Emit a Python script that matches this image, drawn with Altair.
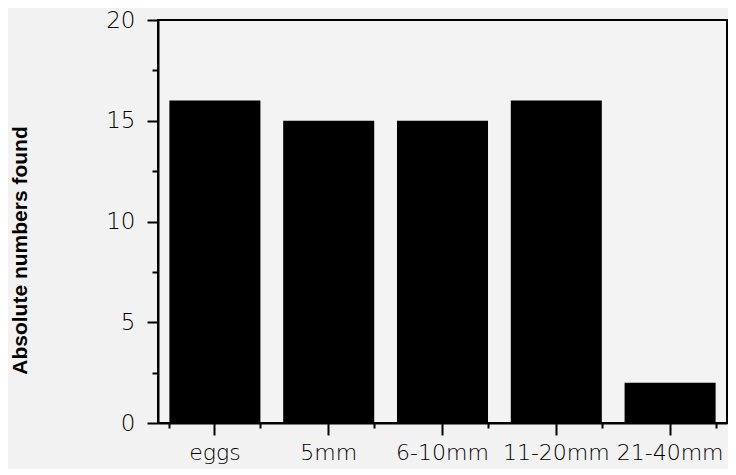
import altair as alt
import pandas as pd

categories = ["eggs", "5mm", "6-10mm", "11-20mm", "21-40mm"]
counts = [16, 15, 15, 16, 2]
y_major = [0, 5, 10, 15, 20]
y_minor = [2.5, 7.5, 12.5, 17.5]

df = pd.DataFrame({"stage": categories, "count": counts})

xscale = alt.Scale(domain=categories, paddingInner=0.2, paddingOuter=0.1)
yscale = alt.Scale(domain=[0, 20], nice=False, zero=True)

bars = alt.Chart(df).mark_bar(color="#000000").encode(
    x=alt.X("stage:N", sort=categories, scale=xscale,
            axis=alt.Axis(title=None, labelAngle=0, tickSize=12, labelPadding=7,
                          labelOverlap=False, labelBound=False, labelFont="DejaVu Sans",
                          labelFontSize=22, labelFontWeight=300, orient="bottom")),
    y=alt.Y("count:Q", scale=yscale,
            axis=alt.Axis(values=y_major, tickSize=11, labelPadding=12, grid=False,
                          title="Absolute numbers found", titleFont="Liberation Sans",
                          titleFontWeight="bold", titleFontSize=21, titleAngle=270,
                          titleAlign="center", titleBaseline="middle",
                          titleX=-138, titleY=230, labelFont="DejaVu Sans",
                          labelFontSize=23, labelFontWeight=300, orient="left")),
)

minor = alt.Chart(df).mark_point(opacity=0).encode(
    x=alt.X("stage:N", sort=categories, scale=xscale,
            axis=alt.Axis(title=None, labels=False, tickBand="extent", tickSize=5,
                          domain=False, orient="bottom")),
    y=alt.Y("count:Q", scale=yscale,
            axis=alt.Axis(values=y_minor, labels=False, tickSize=6, domain=False,
                          grid=False, title=None, orient="left")),
)

chart = (
    alt.layer(bars, minor)
    .resolve_axis(x="independent", y="independent")
    .properties(width=569, height=403, autosize=alt.AutoSizeParams(type="none"),
                padding={"left": 150, "top": 12, "right": 1, "bottom": 46})
    .configure(background="#f2f2f2")
    .configure_view(stroke="#000000", strokeWidth=2, fill="#f3f3f3")
    .configure_axis(domainColor="#000000", domainWidth=2, tickColor="#000000",
                    tickWidth=2, labelColor="#000000", titleColor="#000000")
)

chart.save("out.html", embed_options={"renderer": "svg", "actions": False})
